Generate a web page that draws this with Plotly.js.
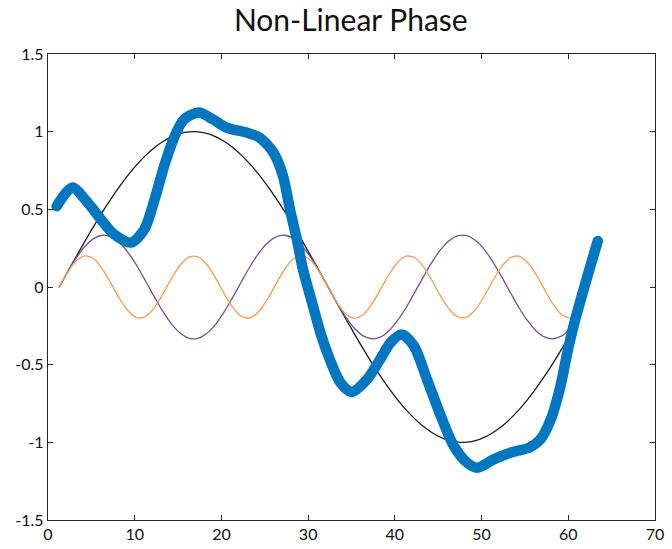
<!DOCTYPE html>
<html>
<head>
<meta charset="utf-8">
<script src="https://cdn.plot.ly/plotly-3.0.1.min.js"></script>
<style>html,body{margin:0;padding:0;background:#fff;}#chart{width:672px;height:549px;}
#chart path.js-line{stroke-linecap:round;stroke-linejoin:round;}</style>
</head>
<body>
<div id="chart"></div>
<script>
// x positions of the thin component curves
const thinX = [1.3,2.3,3.3,4.3,5.3,6.3,7.3,8.3,9.3,10.3,11.3,12.3,13.3,14.3,15.3,16.3,17.3,18.3,19.3,20.3,
  21.3,22.3,23.3,24.3,25.3,26.3,27.3,28.3,29.3,30.3,31.3,32.3,33.3,34.3,35.3,36.3,37.3,38.3,39.3,40.3,
  41.3,42.3,43.3,44.3,45.3,46.3,47.3,48.3,49.3,50.3,51.3,52.3,53.3,54.3,55.3,56.3,57.3,58.3,59.3,60.3,60.6];
const blackY = [0,0.101,0.201,0.299,0.394,0.485,0.571,0.651,0.725,0.791,0.849,0.898,0.938,0.968,0.989,0.999,
  0.999,0.989,0.968,0.938,0.898,0.849,0.791,0.725,0.651,0.571,0.485,0.394,0.299,0.201,0.101,0,
  -0.101,-0.201,-0.299,-0.394,-0.485,-0.571,-0.651,-0.725,-0.791,-0.849,-0.898,-0.938,-0.968,-0.989,-0.999,
  -0.999,-0.989,-0.968,-0.938,-0.898,-0.849,-0.791,-0.725,-0.651,-0.571,-0.485,-0.394,-0.299,-0.271];
const purpleY = [0,0.100,0.190,0.264,0.313,0.333,0.323,0.283,0.217,0.132,0.034,-0.067,-0.162,-0.242,-0.299,-0.330,
  -0.330,-0.299,-0.242,-0.162,-0.067,0.034,0.132,0.217,0.283,0.323,0.333,0.313,0.264,0.190,0.100,0,
  -0.100,-0.190,-0.264,-0.313,-0.333,-0.323,-0.283,-0.217,-0.132,-0.034,0.067,0.162,0.242,0.299,0.330,
  0.330,0.299,0.242,0.162,0.067,-0.034,-0.132,-0.217,-0.283,-0.323,-0.333,-0.313,-0.264,-0.244];
const orangeY = [0,0.097,0.170,0.200,0.180,0.114,0.020,-0.079,-0.158,-0.198,-0.188,-0.130,-0.040,0.060,0.145,0.194,
  0.194,0.145,0.060,-0.040,-0.130,-0.188,-0.198,-0.158,-0.079,0.020,0.114,0.180,0.200,0.170,0.097,0,
  -0.097,-0.170,-0.200,-0.180,-0.114,-0.020,0.079,0.158,0.198,0.188,0.130,0.040,-0.060,-0.145,-0.194,
  -0.194,-0.145,-0.060,0.040,0.130,0.188,0.198,0.158,0.079,-0.020,-0.114,-0.180,-0.200,-0.196];
// thick summed signal with non-linear phase
const blueX = [1.0,2.8,4.55,6.1,7.6,9.57,11.1,12.3,13.4,14.6,15.7,17.4,19.0,20.6,22.9,24.4,26.0,27.1,27.9,28.7,
  29.4,30.5,31.5,32.5,33.7,35.0,36.8,38.3,39.5,40.8,42.2,43.7,45.3,46.8,48.3,49.5,51.4,53.4,55.5,56.8,
  58.0,59.1,59.9,60.7,61.8,62.6,63.4];
const blueY = [0.52,0.64,0.545,0.436,0.34,0.286,0.37,0.565,0.78,0.97,1.08,1.123,1.08,1.026,0.994,0.962,0.865,0.715,0.50,0.307,
  0.114,-0.11,-0.31,-0.466,-0.614,-0.676,-0.594,-0.466,-0.358,-0.305,-0.38,-0.594,-0.83,-1.024,-1.13,-1.163,-1.11,-1.066,-1.034,-0.98,
  -0.85,-0.637,-0.42,-0.23,-0.01,0.145,0.296];
const xTicks = [0,10,20,30,40,50,60,70];
const yTicks = [-1.5,-1,-0.5,0,0.5,1,1.5];
const yTickText = ['-1.5','-1','-0.5','0','0.5','1','1.5'];

const traces = [
  {x: thinX, y: blackY, mode: 'lines', line: {color: '#1a1a1a', width: 1.3, shape: 'spline'}},
  {x: thinX, y: purpleY, mode: 'lines', line: {color: '#7150a2', width: 1.3, shape: 'spline'}},
  {x: thinX, y: orangeY, mode: 'lines', line: {color: '#f89c47', width: 1.3, shape: 'spline'}},
  {x: blueX, y: blueY, mode: 'lines', line: {color: '#0077c0', width: 10.5, shape: 'spline', smoothing: 0.8}}
];
const axisCommon = {
  showline: true, linecolor: '#262626', linewidth: 1.2, mirror: 'ticks',
  ticks: 'inside', ticklen: 5, tickwidth: 1, tickcolor: '#262626',
  showgrid: false, zeroline: false,
  tickfont: {family: 'Lato, "Open Sans", sans-serif', size: 16, color: '#111'}
};
const layout = {
  width: 672, height: 549,
  margin: {l: 48, r: 17, t: 54, b: 29},
  paper_bgcolor: '#fff', plot_bgcolor: '#fff',
  showlegend: false,
  title: {text: 'Non-Linear Phase', x: 0.522, xanchor: 'center', y: 0.962, yanchor: 'middle',
    font: {family: 'Lato, "Open Sans", sans-serif', size: 30, color: '#111'}},
  xaxis: Object.assign({}, axisCommon, {range: [0, 70], tickvals: xTicks, ticktext: xTicks.map(String)}),
  yaxis: Object.assign({}, axisCommon, {range: [-1.5, 1.5], tickvals: yTicks, ticktext: yTickText})
};
Plotly.newPlot('chart', traces, layout, {displayModeBar: false, staticPlot: true});
</script>
</body>
</html>
